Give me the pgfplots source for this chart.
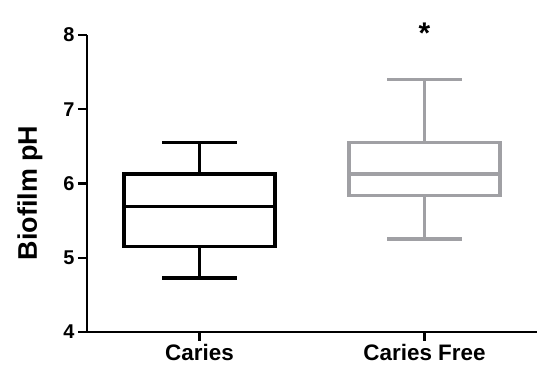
\documentclass[border=0pt]{standalone}
\usepackage{fontspec}
\setmainfont{Liberation Sans}
\usepackage{pgfplots}
\pgfplotsset{compat=1.18}
\definecolor{boxgray}{RGB}{160,160,164}
\begin{document}
\begin{tikzpicture}
\begin{axis}[
  name=ax,
  scale only axis, width=450bp, height=297bp,
  xmin=0.5, xmax=2.5, ymin=4, ymax=8,
  axis lines=left,
  axis line style={line width=2.6bp,-},
  xtick={1,2}, xticklabels={Caries, Caries Free},
  ytick={4,5,6,7,8},
  tick style={line width=2.4bp, black},
  major tick length=9bp,
  tick align=outside,
  /pgf/number format/assume math mode=true,
  tick label style={font=\bfseries\fontsize{20}{20}\selectfont},
  xticklabel style={font=\bfseries\fontsize{22.5}{22.5}\selectfont},
  ylabel={Biofilm pH},
  ylabel style={font=\bfseries\fontsize{27}{27}\selectfont, at={(axis description cs:-0.155,0.468)}, anchor=north, inner sep=0pt},
  clip=false,
  every axis plot/.append style={line width=3.5bp, line join=miter, line cap=butt},
]
% Caries (black)
\addplot[black] coordinates {(0.665,5.15) (1.335,5.15) (1.335,6.13) (0.665,6.13)} -- cycle;
\addplot[black] coordinates {(0.665,5.69) (1.335,5.69)};
\addplot[black] coordinates {(1,6.13) (1,6.55)};
\addplot[black] coordinates {(0.835,6.55) (1.165,6.55)};
\addplot[black] coordinates {(1,5.15) (1,4.73)};
\addplot[black] coordinates {(0.835,4.73) (1.165,4.73)};
% Caries Free (gray)
\addplot[boxgray] coordinates {(1.665,5.84) (2.335,5.84) (2.335,6.55) (1.665,6.55)} -- cycle;
\addplot[boxgray] coordinates {(1.665,6.13) (2.335,6.13)};
\addplot[boxgray] coordinates {(2,6.55) (2,7.40)};
\addplot[boxgray] coordinates {(1.835,7.40) (2.165,7.40)};
\addplot[boxgray] coordinates {(2,5.84) (2,5.25)};
\addplot[boxgray] coordinates {(1.835,5.25) (2.165,5.25)};
\node[anchor=north, inner sep=0pt, font=\bfseries\fontsize{30}{30}\selectfont] at (axis cs:2,8.166) {*};
\end{axis}
\pgfresetboundingbox
\path ([xshift=-87bp,yshift=-49bp]ax.south west) rectangle ([xshift=463bp,yshift=332bp]ax.south west);
\end{tikzpicture}
\end{document}
